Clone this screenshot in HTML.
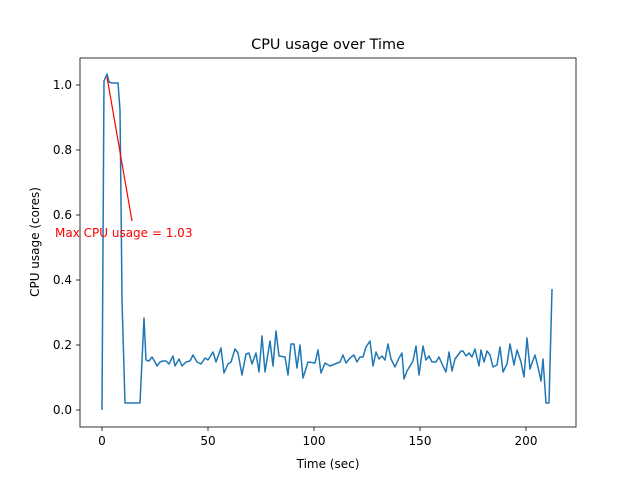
<!DOCTYPE html><html><head><style>body{margin:0;background:#fff}svg{display:block;font-family:"DejaVu Sans","Liberation Sans",sans-serif}</style></head><body>
<svg width="640" height="480" viewBox="0 0 640 480">
<rect width="640" height="480" fill="#fff"/>
<text x="328" y="49" font-size="14.4" text-anchor="middle">CPU usage over Time</text>
<polyline fill="none" stroke="#1f77b4" stroke-width="1.5" stroke-linejoin="round" points="102,410 104,81 107,74 109,82 112,83 115,83 118,83 120,110 121,200 122,300 125,403 140,403 144,318 146,360 149,361 152,357 155,362 157,366 160,362 163,361 166,361 169,364 173,356 175,366 179,359 182,366 186,362 190,361 193,355 197,362 201,364 205,358 208,360 213,352 216,362 221,348 224,373 228,364 231,362 235,349 238,353 242,375 246,354 249,353 252,364 256,353 259,372 262,336 265,372 270,341 273,366 276,331 279,356 285,357 288,375 291,344 294,344 297,368 300,345 303,378 308,362 315,363 318,350 321,373 325,363 330,366 335,364 340,362 343,355 346,363 350,358 354,355 357,362 360,357 363,357 366,347 370,341 373,366 376,352 379,359 382,356 385,360 388,344 391,359 395,367 399,358 402,353 404,379 407,371 413,361 416,346 419,375 423,346 426,360 429,356 432,362 436,362 439,357 443,366 446,372 449,352 452,371 455,359 458,355 461,351 463,351 466,356 469,353 472,357 475,349 479,366 481,350 484,362 487,351 490,355 493,367 497,365 500,347 503,372 507,364 510,344 514,365 517,350 521,362 524,377 527,338 530,369 532,363 535,355 538,367 541,381 543,359 546,403 549,403 552,289"/>
<line x1="107" y1="77" x2="132" y2="221" stroke="red" stroke-width="1.2"/>
<text x="55" y="237" font-size="12" fill="red">Max CPU usage = 1.03</text>
<rect x="80" y="58" width="496" height="369" fill="none" stroke="#000" stroke-width="0.8"/>
<g stroke="#000" stroke-width="0.8">
<line x1="102" y1="427" x2="102" y2="431"/><line x1="208" y1="427" x2="208" y2="431"/><line x1="314" y1="427" x2="314" y2="431"/><line x1="420" y1="427" x2="420" y2="431"/><line x1="526" y1="427" x2="526" y2="431"/>
<line x1="76" y1="410" x2="80" y2="410"/><line x1="76" y1="345" x2="80" y2="345"/><line x1="76" y1="280" x2="80" y2="280"/><line x1="76" y1="215" x2="80" y2="215"/><line x1="76" y1="150" x2="80" y2="150"/><line x1="76" y1="85" x2="80" y2="85"/>
</g>
<g font-size="12" text-anchor="middle">
<text x="102" y="445">0</text><text x="208" y="445">50</text><text x="314" y="445">100</text><text x="420" y="445">150</text><text x="526" y="445">200</text>
</g>
<g font-size="12" text-anchor="end">
<text x="72" y="414">0.0</text><text x="72" y="349">0.2</text><text x="72" y="284">0.4</text><text x="72" y="219">0.6</text><text x="72" y="154">0.8</text><text x="72" y="89">1.0</text>
</g>
<text x="328" y="468" font-size="12" text-anchor="middle">Time (sec)</text>
<text transform="translate(39,242) rotate(-90)" font-size="12" text-anchor="middle">CPU usage (cores)</text>
</svg></body></html>
